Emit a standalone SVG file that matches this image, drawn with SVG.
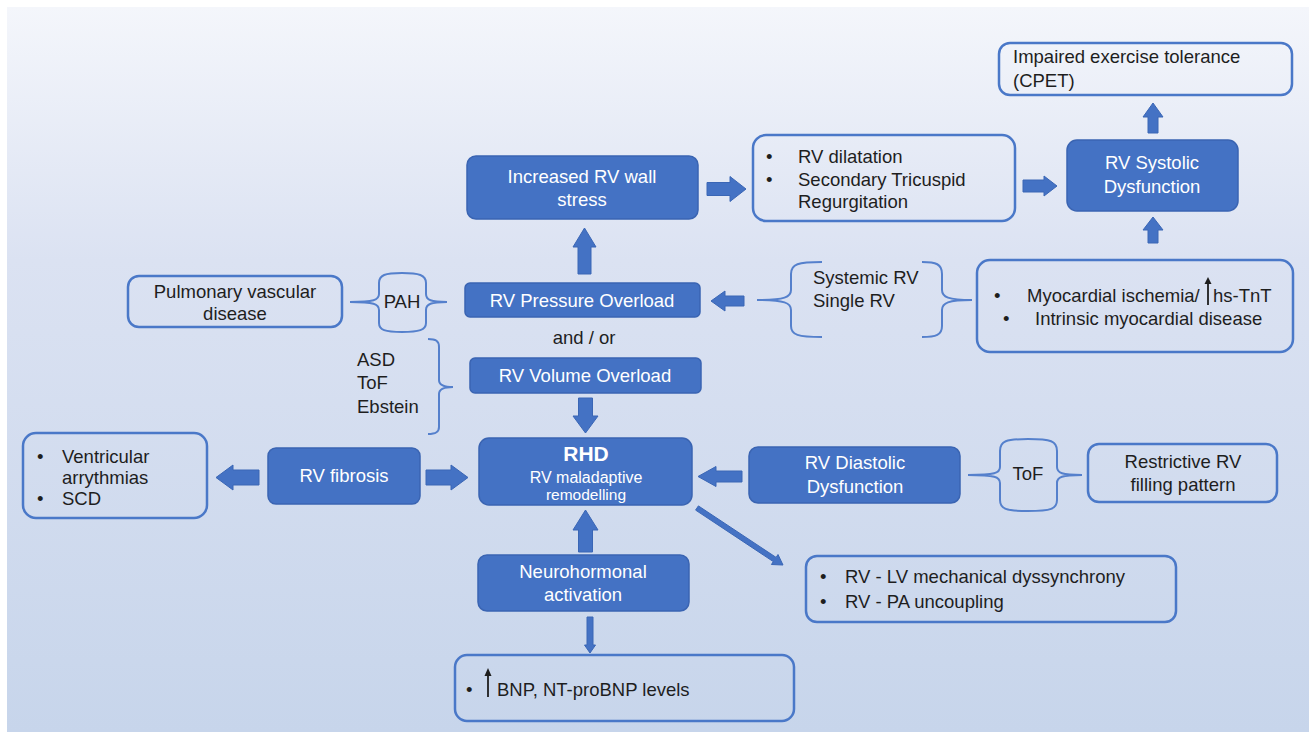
<svg xmlns="http://www.w3.org/2000/svg" width="1309" height="732" viewBox="0 0 1309 732">
<defs>
<linearGradient id="bg" x1="0" y1="0" x2="0" y2="1">
<stop offset="0" stop-color="#f4f6fb"/>
<stop offset="0.35" stop-color="#dbe2f2"/>
<stop offset="1" stop-color="#c7d5eb"/>
</linearGradient>
<style>
.fb{fill:#4472c4;stroke:#3a64b2;stroke-width:1.5}
.ob{fill:none;stroke:#4a78c8;stroke-width:2.5}
.ar{fill:#4472c4;stroke:#3a66b5;stroke-width:1}
.br{fill:none;stroke:#5580cc;stroke-width:2}
text{font-family:"Liberation Sans",Arial,Helvetica,sans-serif;font-size:18.5px}
.w{fill:#ffffff;text-anchor:middle}
.d{fill:#1e1e1e}
.dc{fill:#1e1e1e;text-anchor:middle}
</style>
</defs>
<rect x="0" y="0" width="1309" height="732" fill="#ffffff"/>
<rect x="7" y="7" width="1302" height="725" fill="url(#bg)"/>

<g id="connectors">
<polygon class="ar" points="707,182.5 730,182.5 730,176.5 746,189 730,201.5 730,195.5 707,195.5"/>
<polygon class="ar" points="1023,180 1044,180 1044,176 1057,186 1044,196 1044,192 1023,192"/>
<polygon class="ar" points="578,274 578,247 573,247 584.5,228 596,247 591,247 591,274"/>
<polygon class="ar" points="1148,133 1148,117 1143,117 1153,103 1163,117 1158,117 1158,133"/>
<polygon class="ar" points="1148,243 1148,230 1143,230 1153,217 1163,230 1158,230 1158,243"/>
<polygon class="ar" points="744,296 725,296 725,291 711,301 725,311 725,306 744,306"/>
<polygon class="ar" points="578.5,398 578.5,416 573,416 585.5,433 598,416 592.5,416 592.5,398"/>
<polygon class="ar" points="259,470 233,470 233,465 216,477.5 233,490 233,485 259,485"/>
<polygon class="ar" points="426,470 451,470 451,465 468,477.5 451,490 451,485 426,485"/>
<polygon class="ar" points="742,471 716,471 716,466.5 698,476.5 716,486.5 716,482 742,482"/>
<polygon class="ar" points="578.5,552 578.5,530 573,530 585.5,510 598,530 592.5,530 592.5,552"/>
<polygon class="ar" points="695.6,510.1 773.3,561.6 771.4,564.5 783,565 778,554.5 776.1,557.4 698.4,505.9"/>
<polygon class="ar" points="587,617 587,645 584.5,645 590,653 595.5,645 593,645 593,617"/>
</g>

<g id="braces">
<path class="br" d="M402,273 C385,273 379,275 379,283 L379,294 C379,300 374,302 350,302 C374,302 379,304 379,310 L379,323 C379,330 385,332 402,332 C419,332 426,330 426,323 L426,310 C426,304 431,302 447,302 C431,302 426,300 426,294 L426,283 C426,275 419,273 402,273 Z"/>
<path class="br" d="M428,339 C436,339 439,341 439,347 L439,380 C439,385 443,387 453,387 C443,387 439,389 439,394 L439,427 C439,432 436,434 428,434"/>
<path class="br" d="M822,262 C798,262 791,264 791,274 L791,290 C791,297 785,300 757,300 C785,300 791,303 791,310 L791,326 C791,335 798,337 822,337"/>
<path class="br" d="M922,262 C936,262 942,264 942,274 L942,290 C942,297 948,300 972,300 C948,300 942,303 942,310 L942,326 C942,335 936,337 922,337"/>
<path class="br" d="M1028,439 C1006,439 1000,441 1000,451 L1000,467 C1000,473 995,475 968,475 C995,475 1000,477 1000,483 L1000,500 C1000,509 1006,511 1028,511 C1051,511 1057,509 1057,500 L1057,483 C1057,477 1062,475 1082,475 C1062,475 1057,473 1057,467 L1057,451 C1057,441 1051,439 1028,439 Z"/>
</g>

<g id="impaired">
<rect class="ob" x="999" y="43" width="293" height="52" rx="11"/>
<text class="d" x="1013" y="63">Impaired exercise tolerance</text>
<text class="d" x="1013" y="87">(CPET)</text>
</g>

<g id="wallstress">
<rect class="fb" x="467" y="156" width="231" height="63" rx="9"/>
<text class="w" x="582" y="183">Increased RV wall</text>
<text class="w" x="582" y="206">stress</text>
</g>

<g id="dilatation">
<rect class="ob" x="753" y="135" width="262" height="86" rx="13"/>
<text class="d" x="766" y="163">•</text>
<text class="d" x="798" y="163">RV dilatation</text>
<text class="d" x="766" y="186">•</text>
<text class="d" x="798" y="186">Secondary Tricuspid</text>
<text class="d" x="798" y="208">Regurgitation</text>
</g>

<g id="systolic">
<rect class="fb" x="1067" y="140" width="171" height="71" rx="10"/>
<text class="w" x="1152" y="169">RV Systolic</text>
<text class="w" x="1152" y="193">Dysfunction</text>
</g>

<g id="pulmonary">
<rect class="ob" x="128" y="276" width="214" height="51" rx="11"/>
<text class="dc" x="235" y="298">Pulmonary vascular</text>
<text class="dc" x="235" y="320">disease</text>
</g>

<g id="pah">
<text class="dc" x="402" y="308">PAH</text>
</g>

<g id="pressure">
<rect class="fb" x="465" y="283" width="235" height="34" rx="5"/>
<text class="w" x="582" y="307">RV Pressure Overload</text>
</g>

<g id="andor">
<text class="dc" x="584" y="344">and / or</text>
</g>

<g id="congenital">
<text class="d" x="357" y="366">ASD</text>
<text class="d" x="357" y="389">ToF</text>
<text class="d" x="357" y="413">Ebstein</text>
</g>

<g id="volume">
<rect class="fb" x="470" y="358" width="231" height="35" rx="5"/>
<text class="w" x="585" y="382">RV Volume Overload</text>
</g>

<g id="systemic">
<text class="d" x="813" y="284">Systemic RV</text>
<text class="d" x="813" y="307">Single RV</text>
</g>

<g id="myocardial">
<rect class="ob" x="977" y="260" width="316" height="92" rx="13"/>
<text class="d" x="994" y="302">•</text>
<text class="d" x="1027" y="302">Myocardial ischemia/</text>
<line x1="1208" y1="305" x2="1208" y2="283" stroke="#1e1e1e" stroke-width="1.8"/>
<polygon points="1204.5,284 1208,277 1211.5,284" fill="#1e1e1e"/>
<text class="d" x="1213" y="302">hs-TnT</text>
<text class="d" x="1003" y="325">•</text>
<text class="d" x="1035" y="325">Intrinsic myocardial disease</text>
</g>

<g id="ventricular">
<rect class="ob" x="23" y="433" width="184" height="85" rx="13"/>
<text class="d" x="37" y="463">•</text>
<text class="d" x="62" y="463">Ventricular</text>
<text class="d" x="62" y="484">arrythmias</text>
<text class="d" x="37" y="505">•</text>
<text class="d" x="62" y="505">SCD</text>
</g>

<g id="fibrosis">
<rect class="fb" x="268" y="448" width="152" height="56" rx="8"/>
<text class="w" x="344" y="482">RV fibrosis</text>
</g>

<g id="rhd">
<rect class="fb" x="479" y="438" width="213" height="67" rx="10"/>
<text class="w" x="586" y="461" style="font-size:21px;font-weight:bold">RHD</text>
<text class="w" x="586" y="483" style="font-size:16px">RV maladaptive</text>
<text class="w" x="586" y="500" style="font-size:15.5px">remodelling</text>
</g>

<g id="diastolic">
<rect class="fb" x="749" y="447" width="211" height="56" rx="9"/>
<text class="w" x="855" y="469">RV Diastolic</text>
<text class="w" x="855" y="493">Dysfunction</text>
</g>

<g id="tof">
<text class="dc" x="1028" y="480">ToF</text>
</g>

<g id="restrictive">
<rect class="ob" x="1088" y="444" width="189" height="58" rx="11"/>
<text class="dc" x="1183" y="468">Restrictive RV</text>
<text class="dc" x="1183" y="491">filling pattern</text>
</g>

<g id="neurohormonal">
<rect class="fb" x="478" y="555" width="211" height="56" rx="9"/>
<text class="w" x="583" y="578">Neurohormonal</text>
<text class="w" x="583" y="601">activation</text>
</g>

<g id="dyssynchrony">
<rect class="ob" x="806" y="556" width="370" height="66" rx="11"/>
<text class="d" x="820" y="583">•</text>
<text class="d" x="845" y="583">RV - LV mechanical dyssynchrony</text>
<text class="d" x="820" y="608">•</text>
<text class="d" x="845" y="608">RV - PA uncoupling</text>
</g>

<g id="bnp">
<rect class="ob" x="455" y="655" width="339" height="66" rx="12"/>
<text class="d" x="466" y="696">•</text>
<line x1="488" y1="697" x2="488" y2="675" stroke="#1e1e1e" stroke-width="1.8"/>
<polygon points="484.5,676 488,668 491.5,676" fill="#1e1e1e"/>
<text class="d" x="497" y="696">BNP, NT-proBNP levels</text>
</g>
</svg>
